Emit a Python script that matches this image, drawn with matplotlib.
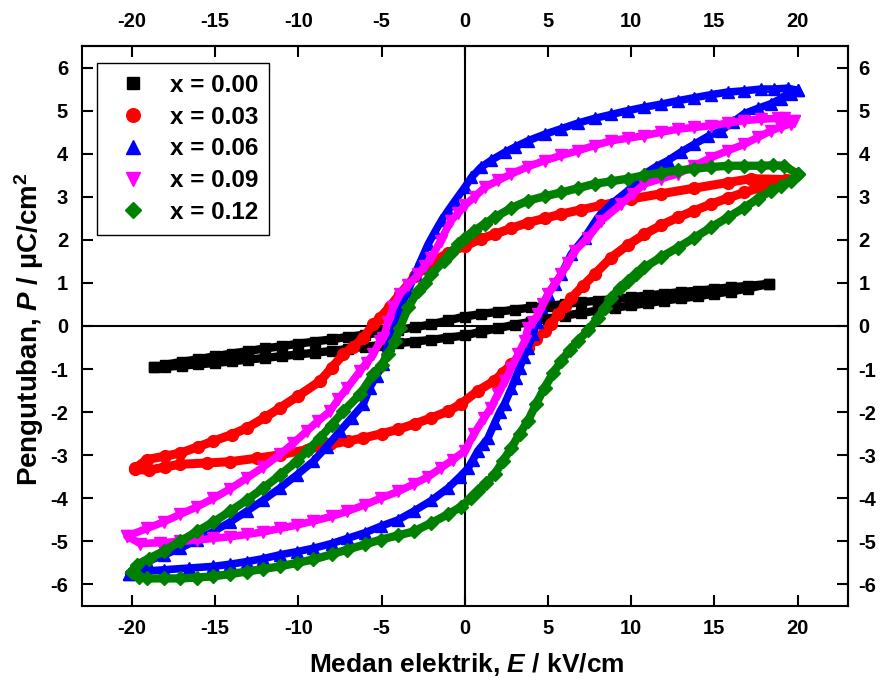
import matplotlib
matplotlib.use('Agg')
import matplotlib.pyplot as plt
import numpy as np

plt.rcParams['font.family'] = ['Liberation Sans', 'DejaVu Sans']
plt.rcParams['font.weight'] = 'bold'
plt.rcParams['axes.unicode_minus'] = False
plt.rcParams['mathtext.fontset'] = 'custom'
plt.rcParams['mathtext.rm'] = 'Liberation Sans:bold'
plt.rcParams['mathtext.it'] = 'Liberation Sans:italic:bold'
plt.rcParams['mathtext.bf'] = 'Liberation Sans:bold'

# ---------------- data ----------------
labels = ['x = 0.00', 'x = 0.03', 'x = 0.06', 'x = 0.09', 'x = 0.12']
colors = ['#000000', '#ff0000', '#0000ff', '#ff00ff', '#008000']
markers = ['s', 'o', '^', 'v', 'D']

# x = 0.00 : upper branch (E decreasing) and lower branch (E increasing)
e0_up = [18.3, 17, 16, 15, 14, 13, 12, 11, 10, 9, 8, 7, 6, 5, 4, 3, 2, 1, 0, -1, -2, -3, -4, -5,
         -6, -7, -8, -9, -10, -11, -12, -13, -14, -15, -16, -17, -18, -18.7]
p0_up = [0.98, 0.93, 0.90, 0.86, 0.82, 0.79, 0.75, 0.71, 0.67, 0.63, 0.59, 0.55, 0.51, 0.47, 0.43,
         0.38, 0.33, 0.28, 0.22, 0.13, 0.04, -0.03, -0.09, -0.15, -0.20, -0.25, -0.31, -0.36, -0.41,
         -0.47, -0.52, -0.58, -0.64, -0.70, -0.77, -0.83, -0.90, -0.96]
e0_dn = [-18.7, -18, -17, -16, -15, -14, -13, -12, -11, -10, -9, -8, -7, -6, -5, -4, -3, -2, -1, 0,
         1, 2, 3, 4, 5, 6, 7, 8, 9, 10, 11, 12, 13, 14, 15, 16, 17, 18.3]
p0_dn = [-0.96, -0.95, -0.92, -0.89, -0.86, -0.82, -0.78, -0.74, -0.70, -0.66, -0.62, -0.58, -0.53,
         -0.48, -0.44, -0.40, -0.36, -0.32, -0.27, -0.22, -0.13, -0.05, 0.03, 0.10, 0.17, 0.24, 0.30,
         0.36, 0.42, 0.48, 0.53, 0.59, 0.64, 0.69, 0.75, 0.80, 0.87, 0.98]

# x = 0.03
e1_up = [19.3, 17.2, 15.8, 13.8, 11.8, 10.0, 8.2, 7.0, 5.8, 4.8, 3.8, 2.8, 1.8, 1.0, 0.0, -1.0, -2.0,
         -3.0, -3.9, -4.5, -5.1, -5.5, -6.1, -6.7, -7.3, -8.0, -8.7, -10.0, -11.1, -12.0, -13.1, -14.0,
         -15.1, -16.0, -17.1, -18.0, -19.1, -19.8]
p1_up = [3.40, 3.42, 3.33, 3.20, 3.07, 2.95, 2.80, 2.70, 2.60, 2.50, 2.40, 2.27, 2.13, 2.03, 1.85, 1.70,
         1.47, 1.15, 0.74, 0.45, 0.19, 0.04, -0.28, -0.48, -0.66, -0.97, -1.28, -1.62, -1.90, -2.12,
         -2.37, -2.52, -2.67, -2.80, -2.95, -3.02, -3.10, -3.30]
e1_dn = [-19.8, -19.0, -18.0, -17.1, -15.5, -14.1, -12.5, -11.1, -9.5, -8.1, -7.0, -6.1, -5.0, -4.0,
         -3.0, -2.0, -1.0, -0.2, 0.8, 1.75, 2.3, 2.8, 3.3, 3.8, 4.3, 4.8, 5.2, 5.6, 6.0, 6.4, 7.1, 7.8,
         8.8, 9.8, 10.8, 11.8, 12.8, 13.8, 14.8, 15.8, 16.8, 17.8, 18.8, 19.3]
p1_dn = [-3.33, -3.35, -3.27, -3.21, -3.18, -3.15, -3.07, -2.99, -2.87, -2.75, -2.67, -2.60, -2.50,
         -2.40, -2.27, -2.13, -1.98, -1.80, -1.50, -1.28, -1.08, -0.89, -0.70, -0.50, -0.30, -0.12,
         0.05, 0.27, 0.46, 0.65, 0.93, 1.20, 1.59, 1.88, 2.13, 2.34, 2.52, 2.68, 2.83, 2.97, 3.10,
         3.22, 3.33, 3.40]

# x = 0.06
e2_up = [20.0, 19.4, 18.6, 17.8, 16.8, 15.8, 14.8, 13.8, 12.8, 11.8, 10.8, 9.8, 8.8, 7.8, 6.8, 5.8,
         4.8, 3.8, 3.0, 2.4, 1.6, 0.96, 0.4, 0.0, -0.6, -1.0, -1.4, -1.8, -2.2, -2.6, -3.0, -3.4, -3.9,
         -4.3, -4.6, -4.9, -5.3, -5.7, -6.1, -6.8, -7.5, -8.3, -9.1, -10.1, -11.1, -12.1, -13.1, -14.1,
         -15.1, -16.1, -17.1, -18.1, -19.1, -19.7, -20.2]
p2_up = [5.47, 5.52, 5.50, 5.50, 5.46, 5.43, 5.37, 5.30, 5.23, 5.15, 5.08, 5.00, 4.91, 4.82, 4.71,
         4.58, 4.45, 4.30, 4.15, 4.03, 3.85, 3.68, 3.45, 3.22, 2.90, 2.68, 2.45, 2.18, 1.90, 1.55, 1.20,
         0.82, 0.43, -0.04, -0.45, -0.89, -1.15, -1.43, -1.82, -2.13, -2.44, -2.80, -3.14, -3.46, -3.76,
         -4.04, -4.30, -4.55, -4.77, -4.97, -5.16, -5.32, -5.47, -5.60, -5.75]
e2_dn = [-20.2, -19.5, -18.1, -16.6, -15.1, -14.1, -13.1, -12.1, -11.1, -10.1, -9.1, -8.0, -7.05,
         -6.0, -5.06, -4.0, -3.07, -2.0, -1.0, -0.3, 0.2, 0.5, 0.78, 1.1, 1.4, 1.8, 2.1, 2.4, 2.8, 3.05,
         3.3, 3.55, 3.8, 4.1, 4.35, 4.6, 5.0, 5.4, 5.8, 6.4, 7.2, 8.0, 8.8, 9.8, 10.8, 11.5, 12.2, 13.0,
         13.8, 14.6, 15.4, 16.1, 16.8, 17.6, 18.4, 19.0, 19.6, 20.0]
p2_dn = [-5.75, -5.70, -5.66, -5.62, -5.58, -5.53, -5.47, -5.40, -5.31, -5.24, -5.16, -5.05, -4.93,
         -4.80, -4.65, -4.50, -4.30, -4.05, -3.76, -3.50, -3.30, -3.10, -2.90, -2.75, -2.60, -2.25,
         -2.00, -1.80, -1.45, -1.20, -0.97, -0.73, -0.50, -0.19, 0.10, 0.43, 0.74, 0.97, 1.20, 1.67,
         2.05, 2.52, 2.83, 3.14, 3.53, 3.70, 3.84, 4.04, 4.22, 4.40, 4.53, 4.73, 4.93, 5.05, 5.16, 5.28,
         5.39, 5.47]

# x = 0.09
e3_up = [19.8, 19.2, 18.8, 17.8, 16.8, 15.8, 14.8, 13.8, 12.8, 11.8, 10.8, 9.8, 8.8, 7.8, 6.8, 5.8,
         4.8, 3.8, 2.8, 2.0, 1.2, 0.6, 0.0, -0.4, -0.84, -1.45, -2.0, -2.4, -2.8, -3.4, -3.9, -4.3, -4.6,
         -4.9, -5.1, -5.5, -5.9, -6.3, -7.05, -7.6, -8.1, -8.8, -9.5, -10.3, -11.1, -12.1, -13.1, -14.1,
         -15.1, -16.1, -17.1, -18.1, -19.1, -20.3]
p3_up = [4.77, 4.84, 4.82, 4.80, 4.77, 4.71, 4.65, 4.61, 4.57, 4.50, 4.42, 4.36, 4.30, 4.19, 4.07,
         3.96, 3.84, 3.70, 3.53, 3.38, 3.22, 3.00, 2.80, 2.62, 2.44, 1.98, 1.59, 1.40, 1.20, 0.95, 0.74,
         0.43, 0.10, -0.28, -0.35, -0.66, -0.85, -1.05, -1.43, -1.70, -1.98, -2.20, -2.44, -2.72, -2.98,
         -3.27, -3.53, -3.78, -4.00, -4.20, -4.37, -4.55, -4.70, -4.88]
e3_dn = [-20.3, -19.5, -18.3, -17.1, -16.1, -15.1, -14.1, -13.1, -12.1, -11.1, -10.1, -9.1, -8.0,
         -7.05, -6.0, -5.06, -4.0, -3.07, -2.2, -1.45, -0.7, 0.0, 0.56, 1.17, 1.57, 1.97, 2.4, 2.8, 3.2,
         3.6, 3.8, 4.1, 4.4, 4.7, 5.0, 5.4, 5.8, 6.2, 6.6, 7.4, 8.2, 9.4, 10.1, 10.8, 11.8, 12.8, 13.8,
         14.8, 15.8, 16.8, 17.6, 18.4, 19.0, 19.6, 19.8]
p3_dn = [-4.88, -5.05, -5.03, -5.00, -4.97, -4.93, -4.89, -4.84, -4.78, -4.70, -4.62, -4.53, -4.42,
         -4.30, -4.15, -4.00, -3.84, -3.67, -3.50, -3.30, -3.10, -2.90, -2.50, -2.13, -1.90, -1.59,
         -1.28, -0.97, -0.66, -0.35, -0.04, 0.10, 0.27, 0.50, 0.74, 0.97, 1.20, 1.47, 1.74, 2.05, 2.44,
         2.83, 3.07, 3.30, 3.42, 3.53, 3.72, 3.91, 4.07, 4.22, 4.38, 4.53, 4.62, 4.70, 4.77]

# x = 0.12
e4_up = [20.0, 19.2, 18.5, 17.8, 16.8, 15.8, 14.8, 13.8, 12.8, 11.8, 10.8, 9.8, 8.8, 7.8, 6.8, 5.8,
         4.8, 3.8, 2.8, 1.8, 1.2, 0.56, 0.0, -0.4, -0.8, -1.25, -2.0, -2.4, -2.8, -3.4, -3.9, -4.2, -4.6,
         -5.0, -5.5, -6.3, -7.3, -8.0, -8.7, -9.4, -10.1, -11.1, -12.1, -13.1, -14.1, -15.1, -16.1,
         -17.1, -18.1, -19.0, -19.7, -20.0]
p4_up = [3.53, 3.72, 3.73, 3.72, 3.72, 3.72, 3.69, 3.65, 3.61, 3.56, 3.50, 3.42, 3.36, 3.30, 3.20,
         3.10, 3.01, 2.91, 2.74, 2.52, 2.37, 2.21, 2.05, 1.90, 1.70, 1.51, 1.20, 1.00, 0.82, 0.43, -0.04,
         -0.35, -0.66, -0.90, -1.12, -1.59, -1.98, -2.30, -2.60, -2.87, -3.14, -3.46, -3.76, -4.04,
         -4.30, -4.55, -4.77, -5.00, -5.23, -5.40, -5.54, -5.70]
e4_dn = [-20.0, -19.6, -19.1, -18.1, -17.1, -16.1, -15.1, -14.1, -13.1, -12.1, -11.1, -10.1, -9.1,
         -8.0, -7.05, -6.0, -5.06, -4.0, -3.07, -2.0, -1.0, -0.24, 0.36, 0.8, 1.3, 1.8, 2.3, 2.8, 3.3,
         3.8, 4.3, 4.8, 5.3, 5.8, 6.3, 6.8, 7.4, 8.0, 8.4, 8.8, 9.3, 9.8, 10.3, 10.8, 11.8, 12.8, 13.8,
         14.8, 15.8, 16.8, 17.6, 18.4, 19.0, 19.6, 20.0]
p4_dn = [-5.70, -5.82, -5.86, -5.86, -5.86, -5.84, -5.81, -5.76, -5.70, -5.64, -5.58, -5.50, -5.42,
         -5.30, -5.19, -5.07, -4.96, -4.86, -4.77, -4.57, -4.37, -4.20, -4.00, -3.84, -3.65, -3.44,
         -3.13, -2.83, -2.50, -2.20, -1.80, -1.43, -1.10, -0.81, -0.56, -0.35, -0.10, 0.18, 0.42, 0.66,
         0.88, 1.05, 1.20, 1.36, 1.60, 1.82, 2.05, 2.29, 2.52, 2.75, 2.95, 3.14, 3.25, 3.37, 3.53]

x_ticks = [-20, -15, -10, -5, 0, 5, 10, 15, 20]
y_ticks = [-6, -5, -4, -3, -2, -1, 0, 1, 2, 3, 4, 5, 6]
x_label = 'Medan elektrik, $E$ / kV/cm'
y_label = 'Pengutuban, $P$ / µC/cm$^{2}$'

loops = [
    (e0_up + e0_dn, p0_up + p0_dn),
    (e1_up + e1_dn, p1_up + p1_dn),
    (e2_up + e2_dn, p2_up + p2_dn),
    (e3_up + e3_dn, p3_up + p3_dn),
    (e4_up + e4_dn, p4_up + p4_dn),
]

# ---------------- figure ----------------
fig = plt.figure(figsize=(8.8, 6.87), dpi=100)
ax = fig.add_axes([82 / 880, 1 - 606 / 687, (847.5 - 82) / 880, (606 - 46) / 687])
ax.set_xlim(-23, 23)
ax.set_ylim(-6.5, 6.5)

ax.axhline(0, color='k', lw=1.5, zorder=1)
ax.axvline(0, color='k', lw=1.5, zorder=1)

msizes = [7, 8.5, 9, 9, 7]
lwidths = [6, 6.5, 5.5, 5.5, 6]
for i, ((e, p), lab, c, m) in enumerate(zip(loops, labels, colors, markers)):
    z = 2 + i
    ax.plot(e, p, '-', color=c, lw=lwidths[i], solid_capstyle='round', solid_joinstyle='round', zorder=z)
    ax.plot(e, p, linestyle='none', marker=m, ms=msizes[i], color=c, mec=c, label=lab, zorder=z)

ax.set_xticks(x_ticks)
ax.set_yticks(y_ticks)
tkw = dict(direction='in', length=8, width=1.5, labelsize=14.5, colors='k')
ax.tick_params(axis='x', pad=9.5, **tkw)
ax.tick_params(axis='y', pad=10, **tkw)
for sp in ax.spines.values():
    sp.set_linewidth(1.5)

secx = ax.secondary_xaxis('top')
secx.set_xticks(x_ticks)
secx.tick_params(pad=11, **tkw)
secx.spines['top'].set_linewidth(1.5)
secy = ax.secondary_yaxis('right')
secy.set_yticks(y_ticks)
secy.tick_params(pad=8, **tkw)
secy.spines['right'].set_linewidth(1.5)

fig.text(466.5 / 880, 1 - 672 / 687, x_label, ha='center', va='baseline', fontsize=19, fontweight='bold')
fig.text(29 / 880, 1 - 329 / 687, y_label, ha='center', va='center', rotation=90,
         fontsize=20, fontweight='bold')

leg = ax.legend(loc='upper left', bbox_to_anchor=((97 - 82) / 765.5, (606 - 63) / 560),
                borderaxespad=0, frameon=True, fancybox=False, edgecolor='k', framealpha=1,
                fontsize=17.5, markerscale=1.15, handlelength=2.1, handletextpad=0.45,
                labelspacing=0.36, borderpad=0.45)
leg.get_frame().set_linewidth(1.0)
leg.set_zorder(10)

fig.savefig('out.png', dpi=100)
